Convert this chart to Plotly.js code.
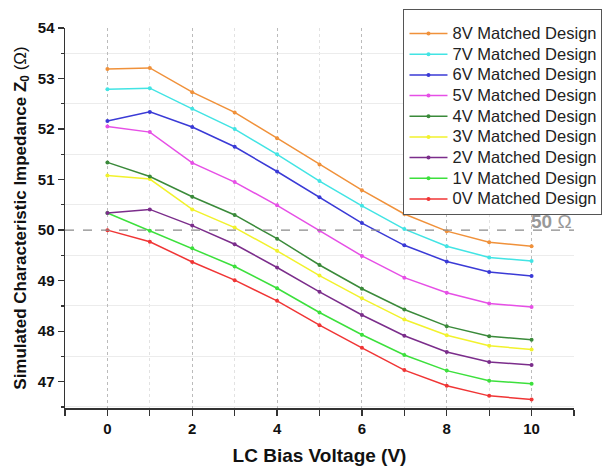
<!DOCTYPE html>
<html>
<head>
<meta charset="utf-8">
<script src="https://cdn.plot.ly/plotly-3.0.1.min.js"></script>
<style>html,body{margin:0;padding:0;background:#fff;}#chart{width:602px;height:468px;}</style>
</head>
<body>
<div id="chart"></div>
<script>
const biasVoltage = [0,1,2,3,4,5,6,7,8,9,10];
const seriesNames = ["0V Matched Design","1V Matched Design","2V Matched Design","3V Matched Design","4V Matched Design","5V Matched Design","6V Matched Design","7V Matched Design","8V Matched Design"];
const z0V = [50.00,49.77,49.37,49.01,48.60,48.12,47.67,47.23,46.92,46.72,46.65];
const z1V = [50.34,49.99,49.64,49.28,48.85,48.37,47.93,47.53,47.22,47.02,46.96];
const z2V = [50.34,50.41,50.09,49.72,49.26,48.78,48.32,47.91,47.59,47.39,47.33];
const z3V = [51.08,51.01,50.41,50.05,49.59,49.10,48.65,48.23,47.92,47.71,47.64];
const z4V = [51.34,51.06,50.66,50.30,49.83,49.31,48.84,48.43,48.10,47.90,47.83];
const z5V = [52.05,51.94,51.33,50.95,50.49,49.99,49.49,49.06,48.76,48.55,48.48];
const z6V = [52.16,52.34,52.04,51.65,51.16,50.65,50.14,49.70,49.38,49.17,49.09];
const z7V = [52.79,52.81,52.40,52.00,51.50,50.97,50.48,50.02,49.68,49.46,49.39];
const z8V = [53.19,53.21,52.73,52.33,51.82,51.30,50.79,50.32,49.98,49.76,49.68];
const seriesValues = [z0V,z1V,z2V,z3V,z4V,z5V,z6V,z7V,z8V];
const seriesColors = ["#f03535","#3ce03c","#7b2d8b","#f2f22c","#3a8a3a","#e64fe6","#3a3ad6","#42e4e4","#f0913a"];
const refImpedance = [50];
const refLabel = ["50 <span style='font-weight:normal'>Ω</span>"];

const FONT = "Arial, 'Liberation Sans', sans-serif";

const traces = seriesNames.map((name, i) => ({
  x: biasVoltage,
  y: seriesValues[i],
  name: "<span style='font-size:16.5px'>" + name + "</span>",
  type: "scatter",
  mode: "lines+markers",
  line: {color: seriesColors[i], width: 1.5},
  marker: {color: seriesColors[i], size: 4, symbol: "circle"}
}));

const layout = {
  width: 602, height: 468,
  paper_bgcolor: "#fff", plot_bgcolor: "#fff",
  margin: {l: 65, r: 27.5, t: 28, b: 60, autoexpand: false},
  font: {family: FONT, color: "#111"},
  showlegend: true,
  legend: {
    x: 0.665, y: 1.049, xanchor: "left", yanchor: "top",
    traceorder: "reversed",
    itemwidth: 38,
    title: {text: " ", font: {size: 6}},
    bordercolor: "#555", borderwidth: 1, bgcolor: "#fff",
    font: {family: FONT, size: 13.6, color: "#222"}
  },
  xaxis: {
    range: [-1, 11],
    tick0: 0, dtick: 2,
    ticks: "outside", ticklen: 6, tickwidth: 1.3, tickcolor: "#333",
    showline: true, linecolor: "#333", linewidth: 1.5, mirror: false,
    showgrid: true, gridcolor: "#bbb", griddash: "dot", gridwidth: 1,
    zeroline: false,
    tickfont: {family: FONT, size: 15, weight: "bold", color: "#111"},
    minor: {dtick: 1, tick0: 0, ticks: "outside", ticklen: 6, tickwidth: 1.3, tickcolor: "#333",
            showgrid: true, gridcolor: "#e2e2e2", griddash: "dot", gridwidth: 1},
    title: {text: "LC Bias Voltage (V)", standoff: 13,
            font: {family: FONT, size: 19, weight: "bold", color: "#111"}}
  },
  yaxis: {
    range: [46.48, 54],
    tick0: 47, dtick: 1,
    ticks: "outside", ticklen: 6, tickwidth: 1.3, tickcolor: "#333",
    showline: true, linecolor: "#333", linewidth: 1.5, mirror: false,
    showgrid: false, zeroline: false,
    tickfont: {family: FONT, size: 15, weight: "bold", color: "#111"},
    minor: {dtick: 0.5, tick0: 47, ticks: "outside", ticklen: 3, tickwidth: 1.2, tickcolor: "#333",
            showgrid: true, gridcolor: "#ececec", gridwidth: 1},
    title: {text: "Simulated Characteristic Impedance Z<sub>0</sub> <span style='font-weight:normal'>(Ω)</span>", standoff: 7,
            font: {family: FONT, size: 17, weight: "bold", color: "#111"}}
  },
  shapes: [{
    type: "line", xref: "paper", yref: "y",
    x0: 0, x1: 1, y0: refImpedance[0], y1: refImpedance[0],
    line: {color: "#8a8a8a", width: 1.2, dash: "dash"}
  }],
  annotations: [{
    xref: "paper", yref: "y", x: 1, y: refImpedance[0],
    xanchor: "right", yanchor: "bottom", showarrow: false,
    text: refLabel[0], yshift: -4,
    font: {family: FONT, size: 19, weight: "bold", color: "#999"}
  }]
};

Plotly.newPlot("chart", traces, layout, {staticPlot: true, displayModeBar: false});
</script>
</body>
</html>
